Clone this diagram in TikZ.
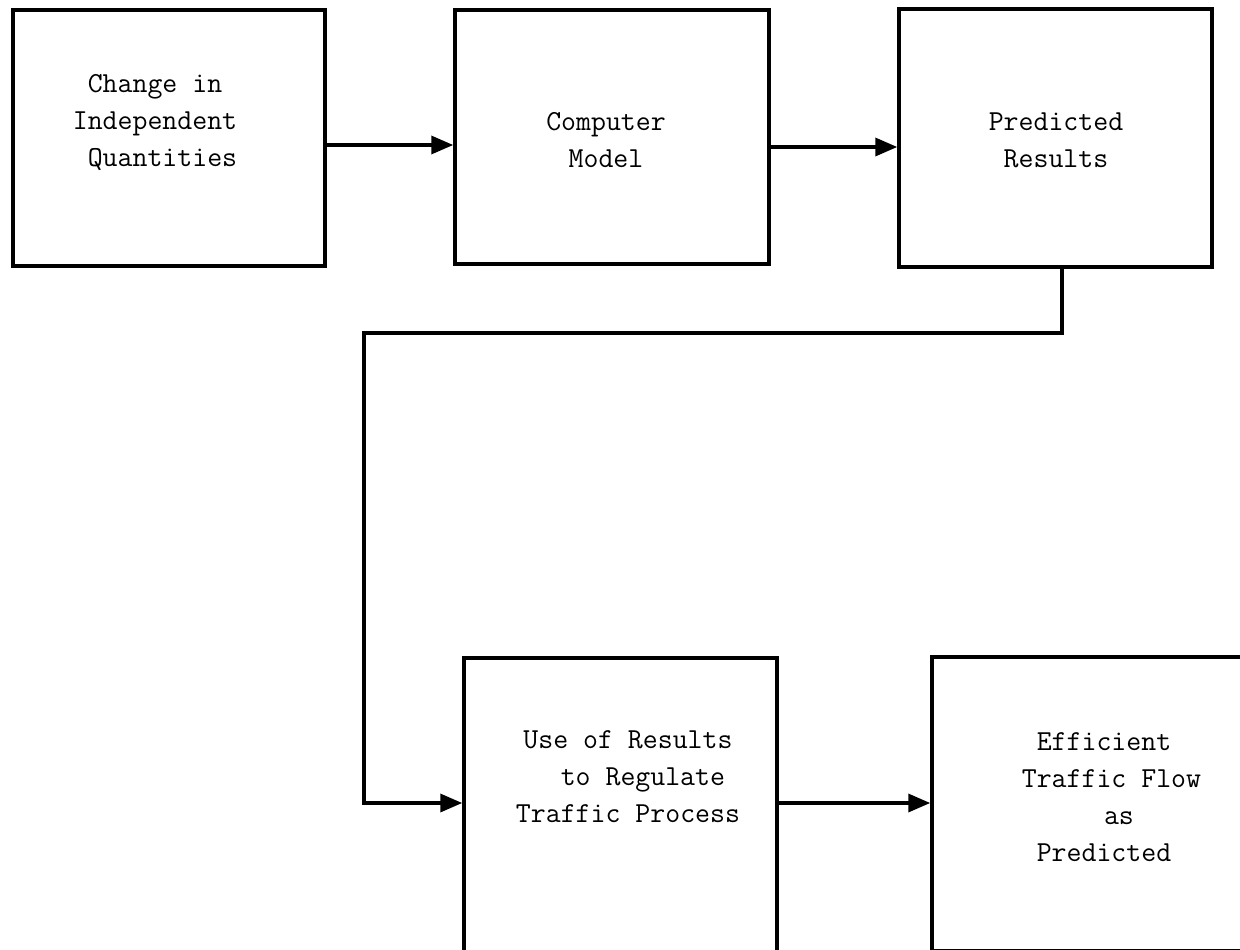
\documentclass[tikz,border=0pt]{standalone}
\usepackage{fontspec}
\usetikzlibrary{arrows.meta}
\begin{document}
\begin{tikzpicture}[x=1pt,y=-1pt,
  blockbox/.style={draw=black, line width=3.5pt, rectangle, inner sep=0pt},
  lbl/.style={align=center, inner sep=0pt, font=\fontsize{29}{37}\selectfont\ttfamily},
  flow/.style={draw=black, line width=3.5pt, -{Triangle[length=22pt,width=18pt]}},
  plainline/.style={draw=black, line width=3.5pt}]
\useasboundingbox (0,0) rectangle (1240,950);
\clip (0,0) rectangle (1240,950);
\fill[white] (0,0) rectangle (1240,950);
% boxes
\node[blockbox, minimum width=312pt, minimum height=256pt] (A) at (169,138) {};
\node[blockbox, minimum width=314pt, minimum height=254pt] (B) at (612,137) {};
\node[blockbox, minimum width=313pt, minimum height=258pt] (C) at (1055.5,138) {};
\node[blockbox, minimum width=313pt, minimum height=342pt] (D) at (620.5,829) {};
\node[blockbox, minimum width=318pt, minimum height=294pt] (E) at (1091,804) {};
% texts
\node[lbl] (tA) at (155,122) {Change in\\Independent\\\ Quantities};
\node[lbl] (tB) at (606,140) {Computer\\ Model};
\node[lbl] (tC) at (1056,140) {Predicted\\Results};
\node[lbl] (tD) at (628,777) {Use of Results\\\ \ to Regulate\\Traffic Process};
\node[lbl] (tE) at (1104,797) {Efficient\\\ Traffic Flow\\\ \ as\\Predicted};
% connectors
\draw[flow] ([yshift=-7pt]A.east) -- ([yshift=-7pt]A.east -| B.west);
\draw[flow] ([yshift=-10pt]B.east) -- ([yshift=-10pt]B.east -| C.west);
\coordinate (bend) at (364,333);
\draw[flow, rounded corners=0pt] ([xshift=6.5pt]C.south) |- (bend) |- ([yshift=26pt]D.west);
\draw[flow] ([yshift=26pt]D.east) -- ([yshift=26pt]D.east -| E.west);
\end{tikzpicture}
\end{document}
